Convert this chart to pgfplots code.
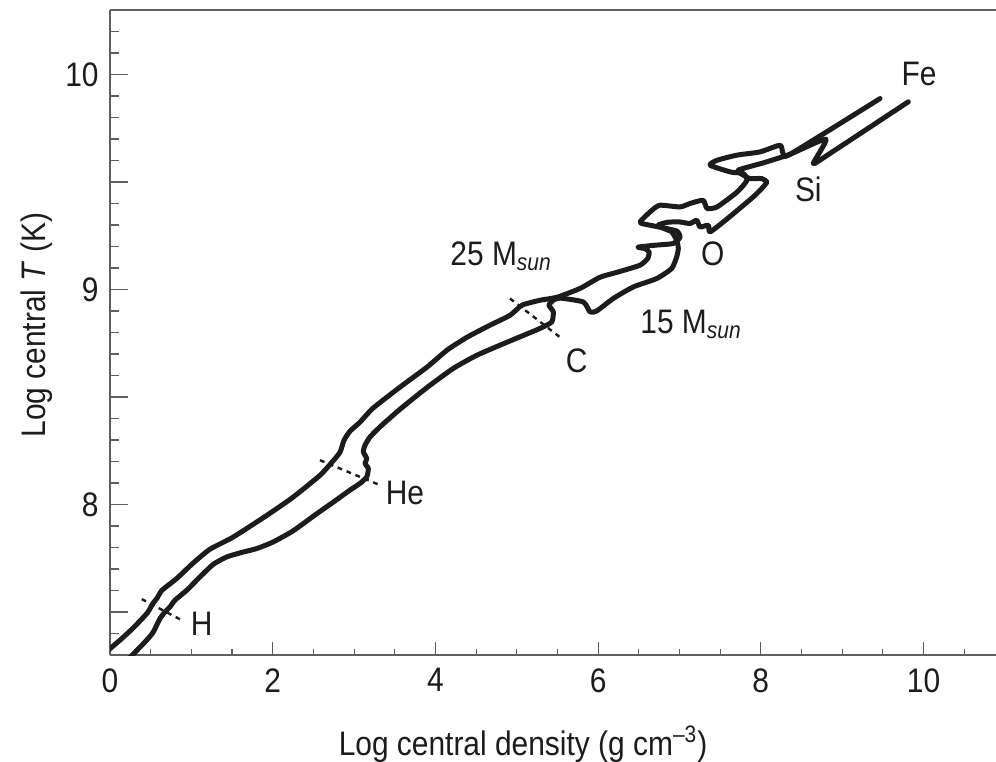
\documentclass[border=0pt]{standalone}
\usepackage{fontspec}
\setmainfont{Liberation Sans}[FakeStretch=0.88]
\usepackage{pgfplots}
\pgfplotsset{compat=1.18}
\definecolor{axgray}{RGB}{95,95,95}
\definecolor{ink}{RGB}{28,28,28}
\begin{document}
\begin{tikzpicture}[font=\fontsize{17}{20}\selectfont]
\pgfplotsset{
  base/.style={
    scale only axis, width=443pt, height=322.5pt,
    xmin=0, xmax=10.891, ymin=7.3, ymax=10.3,
    axis x line*=bottom, axis y line*=left,
    axis line style={draw=axgray, line width=0.65pt},
    tick style={draw=axgray, line width=0.55pt},
    tick align=inside,
    clip mode=individual,
    /pgf/number format/assume math mode=true,
  },
  track/.style={ink, line width=2.5pt, line join=round, line cap=round, smooth, tension=0.35},
  stage/.style={ink, line width=1.2pt, dash pattern=on 2.4pt off 2.4pt},
}
% axis carrying the x ticks
\begin{axis}[base,
  xtick={0,2,4,6,8,10},
  minor xtick={0.5,1,1.5,2.5,3,3.5,4.5,5,5.5,6.5,7,7.5,8.5,9,9.5,10.5},
  ytick=\empty,
  major tick length=6.35pt, minor tick length=3pt,
  xticklabel style={anchor=north, inner sep=0pt, yshift=-6.5pt, text=ink},
]
\end{axis}
% axis carrying the y ticks and the data
\begin{axis}[base,
  xtick=\empty,
  ytick={7.5,8,8.5,9,9.5,10},
  yticklabels={,8,,9,,10},
  minor ytick={7.4,7.6,7.7,7.8,7.9,8.1,8.2,8.3,8.4,8.6,8.7,8.8,8.9,9.1,9.2,9.3,9.4,9.6,9.7,9.8,9.9,10.1,10.2},
  major tick length=8.85pt, minor tick length=4.5pt,
  yticklabel style={anchor=east, inner sep=0pt, xshift=-5.5pt, text=ink},
]
\coordinate (bl) at (rel axis cs:0,0);
\coordinate (tr) at (rel axis cs:1,1);
\draw[axgray, line width=0.65pt] (rel axis cs:0,1) -- (rel axis cs:1,1);

% 25 Msun track
\addplot[track] coordinates {
(-0.03,7.32) (0.123,7.369) (0.283,7.425) (0.455,7.494) (0.529,7.541) (0.578,7.564)
(0.639,7.601) (0.824,7.657) (1.020,7.727) (1.229,7.792) (1.512,7.848) (1.930,7.950)
(2.250,8.034) (2.582,8.136) (2.729,8.197) (2.827,8.243) (2.877,8.299) (2.950,8.341)
(3.073,8.383) (3.233,8.448) (3.565,8.546) (3.897,8.639) (4.143,8.718) (4.389,8.778)
(4.671,8.834) (4.917,8.880) (5.065,8.927) (5.286,8.950) (5.495,8.964) (5.778,9.005)
(6.023,9.057) (6.232,9.080) (6.515,9.113) (6.613,9.146) (6.626,9.175) (6.576,9.190)
(6.490,9.197) (6.700,9.206) (6.921,9.214) (7.007,9.243) (6.970,9.271) (6.823,9.285)
(6.638,9.299) (6.515,9.313) (6.663,9.369) (6.761,9.392) (7.007,9.384) (7.130,9.400)
(7.290,9.415) (7.339,9.377) (7.462,9.384) (7.708,9.453) (7.830,9.508) (7.781,9.540)
(7.634,9.546) (7.376,9.578) (7.462,9.601) (7.708,9.625) (7.990,9.640) (8.236,9.671)
(8.273,9.634) (8.359,9.629) (9.465,9.888)
};
% 15 Msun track
\addplot[track] coordinates {
(0.234,7.284) (0.451,7.369) (0.532,7.407) (0.615,7.470) (0.676,7.500) (0.738,7.524)
(0.799,7.555) (0.943,7.601) (1.106,7.663) (1.270,7.722) (1.435,7.756) (1.598,7.775)
(1.803,7.795) (2.007,7.826) (2.253,7.878) (2.541,7.957) (2.745,8.011) (2.950,8.067)
(3.073,8.098) (3.156,8.128) (3.175,8.167) (3.135,8.191) (3.156,8.214) (3.114,8.245)
(3.135,8.276) (3.196,8.314) (3.319,8.361) (3.565,8.443) (3.893,8.543) (4.220,8.633)
(4.508,8.694) (4.794,8.741) (5.040,8.780) (5.286,8.819) (5.430,8.849) (5.449,8.896)
(5.396,8.927) (5.449,8.950) (5.532,8.960) (5.818,8.942) (5.900,8.896) (5.982,8.900)
(6.186,8.958) (6.433,9.012) (6.720,9.051) (6.905,9.098) (6.966,9.152) (6.986,9.191)
(6.966,9.229) (6.905,9.268) (6.820,9.282) (6.740,9.300) (6.860,9.313) (7.007,9.314)
(7.130,9.307) (7.212,9.322) (7.253,9.291) (7.355,9.299) (7.376,9.268) (7.581,9.327)
(7.908,9.431) (8.027,9.476) (8.073,9.500) (8.011,9.516) (7.867,9.516) (7.785,9.532)
(7.720,9.555) (8.030,9.589) (8.359,9.629) (8.800,9.699) (8.645,9.586) (8.851,9.633)
(9.813,9.873)
};
% burning-stage markers
\addplot[stage] coordinates {(0.390,7.560) (0.881,7.462)};
\addplot[stage] coordinates {(2.581,8.206) (3.319,8.090)};
\addplot[stage] coordinates {(4.917,8.958) (5.553,8.772)};

\node[text=ink] at (axis cs:1.127,7.447) {H};
\node[text=ink] at (axis cs:3.626,8.055) {He};
\node[text=ink] at (axis cs:5.737,8.669) {C};
\node[text=ink] at (axis cs:7.410,9.167) {O};
\node[text=ink] at (axis cs:8.584,9.465) {Si};
\node[text=ink] at (axis cs:9.945,10.001) {Fe};
\node[text=ink, anchor=base west, inner sep=0pt] at (axis cs:4.180,9.113) {25 M\textsubscript{\textit{sun}}};
\node[text=ink, anchor=base west, inner sep=0pt] at (axis cs:6.515,8.795) {15 M\textsubscript{\textit{sun}}};

\node[text=ink, rotate=90, anchor=base, inner sep=0pt] at (axis cs:-0.799,8.834) {Log central \textit{T} (K)};
\node[text=ink, anchor=base, inner sep=0pt] at (axis cs:5.077,6.834) {Log central density (g cm\textsuperscript{–3})};
\end{axis}
\pgfresetboundingbox
\path[use as bounding box] ([xshift=-55pt,yshift=-53pt]bl) rectangle ([yshift=5pt]tr);
\end{tikzpicture}
\end{document}
